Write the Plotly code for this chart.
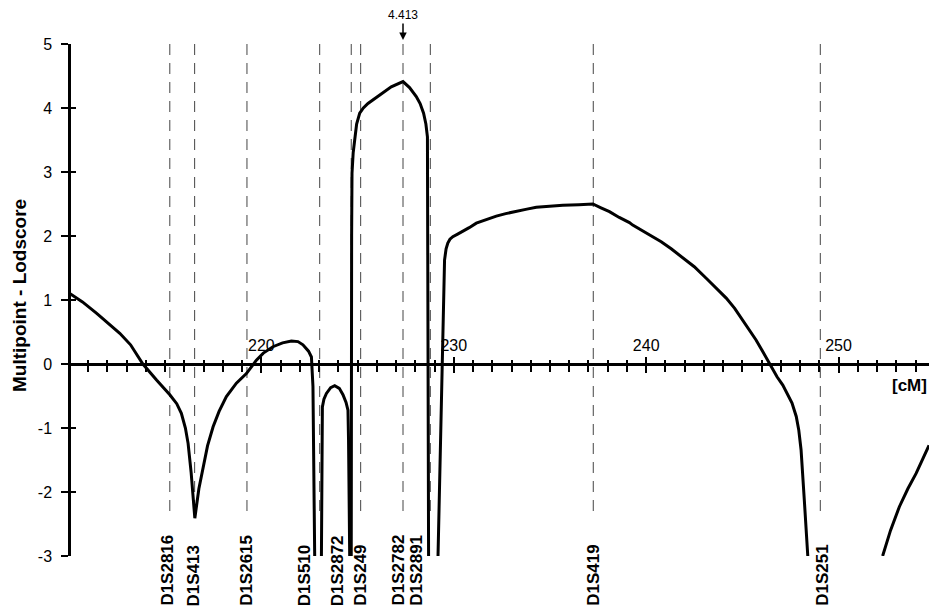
import plotly.graph_objects as go

# ---------------- data ----------------
seg1_cm = [210.0, 210.7, 211.44, 212.0, 212.64, 213.2, 213.84, 214.55, 215.24, 215.6, 215.84, 216.05,
           216.19, 216.35, 216.54, 216.75, 216.97, 217.2, 217.49, 217.8, 218.18, 218.7, 219.22, 219.74,
           220.1, 220.6, 221.1, 221.56, 221.9, 222.16, 222.45, 222.6, 222.68, 222.72, 222.77]
seg1_lod = [1.11, 0.97, 0.79, 0.65, 0.48, 0.30, 0.0, -0.25, -0.48, -0.62, -0.77, -1.0,
            -1.24, -1.7, -2.41, -1.95, -1.60, -1.28, -0.98, -0.74, -0.51, -0.30, -0.15, 0.06,
            0.17, 0.27, 0.33, 0.36, 0.35, 0.30, 0.20, 0.11, -0.35, -1.5, -3.0]

seg2_cm = [223.12, 223.15, 223.17, 223.25, 223.38, 223.6, 223.81, 224.05, 224.24, 224.4, 224.5, 224.53, 224.55, 224.59]
seg2_lod = [-3.0, -1.5, -0.67, -0.55, -0.46, -0.37, -0.34, -0.38, -0.48, -0.6, -0.72, -1.2, -1.6, -3.0]

seg3_cm = [224.67, 224.67, 224.69, 224.71, 224.77, 224.85, 224.95, 225.11, 225.3, 225.54, 226.15, 226.75,
           227.36, 227.7, 228.05, 228.25, 228.43, 228.55, 228.63, 228.64, 228.66, 228.69]
seg3_lod = [-3.0, 0.69, 2.0, 2.98, 3.3, 3.5, 3.75, 3.92, 4.0, 4.07, 4.20, 4.33,
            4.413, 4.32, 4.18, 4.07, 3.92, 3.75, 3.55, 0.7, -0.9, -3.0]

seg4_cm = [229.18, 229.28, 229.35, 229.42, 229.47, 229.52, 229.6, 229.69, 229.8, 229.95, 230.2, 230.47,
           230.8, 231.17, 231.7, 232.21, 232.7, 233.25, 233.8, 234.29, 235.0, 235.67, 236.5, 237.23,
           237.65, 238.09, 238.6, 239.13, 239.3, 240.0, 240.78, 241.3, 241.82, 242.5, 243.12, 243.65,
           244.16, 244.6, 245.02, 245.37, 245.71, 246.05, 246.4, 246.8, 247.1, 247.58, 247.8, 247.93,
           248.05, 248.15, 248.22, 248.4]
seg4_lod = [-3.0, -1.5, -0.82, 0.2, 1.0, 1.625, 1.8, 1.89, 1.95, 1.99, 2.03, 2.07,
            2.13, 2.20, 2.26, 2.31, 2.35, 2.38, 2.42, 2.45, 2.47, 2.48, 2.49, 2.50,
            2.44, 2.38, 2.29, 2.21, 2.17, 2.05, 1.91, 1.80, 1.68, 1.52, 1.34, 1.19,
            1.03, 0.87, 0.69, 0.53, 0.375, 0.20, 0.01, -0.20, -0.33, -0.61, -0.82, -1.03,
            -1.34, -1.75, -2.13, -3.0]

seg5_cm = [252.29, 252.7, 253.16, 253.6, 254.03, 254.7]
seg5_lod = [-3.0, -2.6, -2.23, -1.95, -1.71, -1.27]

marker_names = ["D1S2816", "D1S413", "D1S2615", "D1S510", "D1S2872", "D1S249",
                "D1S2782", "D1S2891", "D1S419", "D1S251"]
marker_cm = [215.24, 216.53, 219.25, 223.03, 224.67, 225.16, 227.36, 228.78, 237.25, 249.05]

peak_cm = 227.36
peak_lod = 4.413

x_major = [220, 230, 240, 250]
x_major_labels = ["220", "230", "240", "250"]
y_ticks = [-3, -2, -1, 0, 1, 2, 3, 4, 5]
y_tick_labels = ["-3", "-2", "-1", "0", "1", "2", "3", "4", "5"]

# ---------------- styling ----------------
FONT = "Liberation Sans, Arial, Helvetica, sans-serif"
label_xshift = [-2.7, -0.7, -0.6, -15, -13.4, -0.3, -5, -14, 0, 2]
dash_top, dash_bottom = 5, -2.35
X_RANGE = [210, 254.7]
Y_RANGE = [-3, 5]
ZERO_POS = (0 - Y_RANGE[0]) / (Y_RANGE[1] - Y_RANGE[0])

fig = go.Figure()

# dashed marker lines
dx, dy = [], []
for m in marker_cm:
    dx += [m, m, None]
    dy += [dash_top, dash_bottom, None]
fig.add_trace(go.Scatter(x=dx, y=dy, mode="lines", hoverinfo="skip",
                         line=dict(color="#444444", width=1, dash="11px,8px"), showlegend=False))

# curve
cx, cy = [], []
for sx, sy in [(seg1_cm, seg1_lod), (seg2_cm, seg2_lod), (seg3_cm, seg3_lod),
               (seg4_cm, seg4_lod), (seg5_cm, seg5_lod)]:
    cx += sx + [None]
    cy += sy + [None]
fig.add_trace(go.Scatter(x=cx, y=cy, mode="lines", connectgaps=False,
                         line=dict(color="black", width=3), showlegend=False))

# dummy trace for the overlay axes (upward / rightward tick halves)
fig.add_trace(go.Scatter(x=[None], y=[None], xaxis="x2", yaxis="y2", mode="lines", showlegend=False))

fig.update_layout(
    width=929, height=609,
    margin=dict(l=69, r=0, t=44, b=53),
    plot_bgcolor="white", paper_bgcolor="white",
    font=dict(family=FONT, color="black"),
    xaxis=dict(range=X_RANGE, domain=[0, 1], anchor="free", position=ZERO_POS,
               showline=True, linecolor="black", linewidth=2.5,
               ticks="outside", ticklen=7, tickwidth=2, tickcolor="black",
               tickmode="array", tickvals=x_major, showticklabels=False,
               minor=dict(ticks="outside", ticklen=6, tickwidth=2, tickcolor="black",
                          tickmode="linear", tick0=210, dtick=1),
               showgrid=False, zeroline=False),
    xaxis2=dict(range=X_RANGE, overlaying="x", matches="x", anchor="free", position=ZERO_POS,
                side="top", showline=False,
                ticks="outside", ticklen=7, tickwidth=2, tickcolor="black",
                tickmode="array", tickvals=x_major, ticktext=x_major_labels,
                tickfont=dict(size=16, family=FONT, color="black"),
                minor=dict(ticks="outside", ticklen=4, tickwidth=2, tickcolor="black",
                           tickmode="linear", tick0=210, dtick=1),
                showgrid=False, zeroline=False),
    yaxis=dict(range=Y_RANGE, domain=[0, 1], anchor="free", position=0,
               showline=True, linecolor="black", linewidth=2.5,
               ticks="outside", ticklen=7, tickwidth=2, tickcolor="black",
               tickmode="array", tickvals=y_ticks, ticktext=y_tick_labels, ticklabelstandoff=6,
               tickfont=dict(size=16, family=FONT, color="black"),
               showgrid=False, zeroline=False),
    yaxis2=dict(range=Y_RANGE, overlaying="y", matches="y", anchor="free", position=0,
                side="left", showline=False,
                ticks="inside", ticklen=6, tickwidth=2, tickcolor="black",
                tickmode="array", tickvals=y_ticks, showticklabels=False,
                showgrid=False, zeroline=False),
)

# marker labels
for name, m, xs in zip(marker_names, marker_cm, label_xshift):
    fig.add_annotation(x=m, y=Y_RANGE[0], xref="x", yref="y", text=f"<b>{name}</b>",
                       textangle=-90, showarrow=False, xanchor="center", yanchor="bottom",
                       xshift=xs, yshift=-51, borderpad=0,
                       font=dict(size=17, family=FONT, color="black"))

# y title
fig.add_annotation(x=0, y=0.5, xref="paper", yref="paper", text="<b>Multipoint - Lodscore</b>",
                   textangle=-90, showarrow=False, xanchor="center", yanchor="middle",
                   xshift=-50, yshift=4, font=dict(size=19, family=FONT, color="black"))

# unit label
fig.add_annotation(x=1, y=0, xref="paper", yref="y", text="<b>[cM]</b>", showarrow=False,
                   xanchor="right", yanchor="middle", xshift=0, yshift=-21,
                   font=dict(size=17, family=FONT, color="black"))

# peak arrow
fig.add_annotation(x=peak_cm, y=Y_RANGE[1], xref="x", yref="y", text=f"{peak_lod:.3f}",
                   showarrow=True, arrowhead=2, arrowsize=1, arrowwidth=1.5, arrowcolor="black",
                   ax=0, ay=-25, yshift=4, font=dict(size=12, family=FONT, color="black"))

fig.write_html("out.html", config={"displayModeBar": False},
               post_script="document.body.style.margin='0px';")
